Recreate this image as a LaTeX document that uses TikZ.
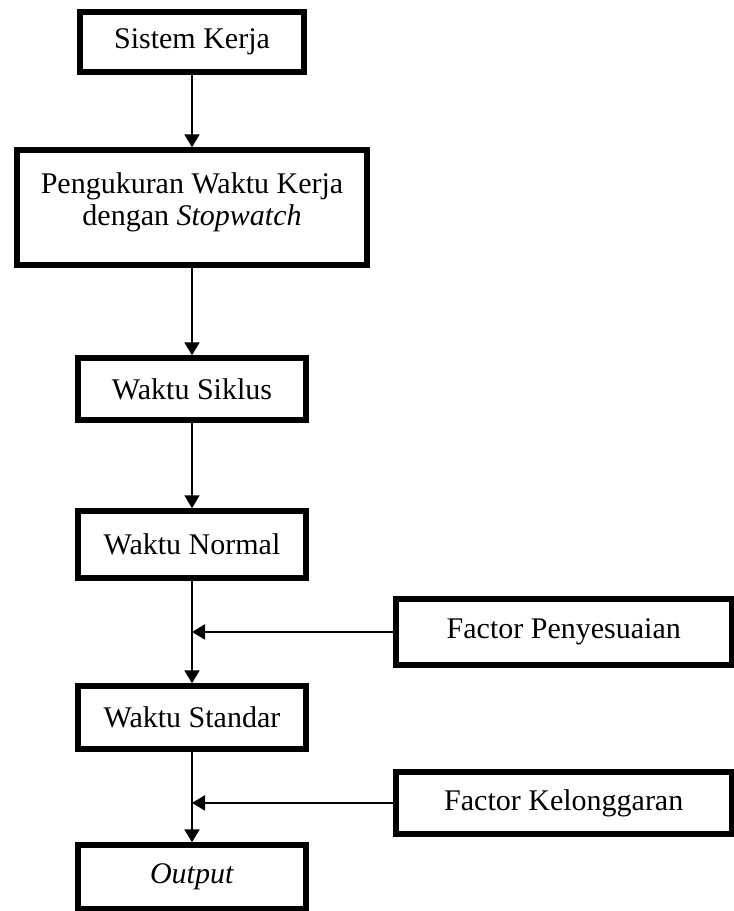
\documentclass[tikz,border=0pt]{standalone}
\usepackage{fontspec}
\setmainfont{Liberation Serif}
\usetikzlibrary{positioning}
\usetikzlibrary{calc}
\usetikzlibrary{arrows.meta}

\begin{document}
\begin{tikzpicture}[>={Triangle[length=6.5pt,width=7.5pt]}, line width=1pt,
	kotak/.style={draw, line width=2.75pt, inner sep=0pt, align=center,
		font=\fontsize{15}{17.5}\selectfont, minimum width=114pt, minimum height=31.5pt}]
		\useasboundingbox (0,0) rectangle (367pt,-455.5pt);
		\node[kotak, minimum width=112pt, minimum height=30pt] (Sk) at (96pt,-21pt) {Sistem Kerja};
		\node[kotak, below = 36.25pt of Sk, minimum width=175pt, minimum height=57.5pt,
			font=\fontsize{15}{16}\selectfont] (Pwk) {Pengukuran Waktu Kerja\\dengan \textit{Stopwatch}\\[-8pt]};
		\node[kotak, below = 43.75pt of Pwk, minimum height=31pt] (Ws) {Waktu Siklus};
		\node[kotak, below = 42.75pt of Ws, minimum height=33.5pt] (Wn) {Waktu Normal};
		\node[kotak, below = 51.25pt of Wn] (Wst) {Waktu Standar};
		\node[kotak, below = 45.25pt of Wst, minimum height=32pt] (Out) {\textit{Output}};
		\coordinate[below = 25.6pt of Wn] (J1);
		\coordinate[below = 25.6pt of Wst] (J2);
		\node[kotak, right = 100.5pt of J1, minimum width=168pt, minimum height=33pt] (Fp) {Factor Penyesuaian};
		\node[kotak, right = 100.5pt of J2, minimum width=168pt, minimum height=31pt] (Fk) {Factor Kelonggaran};
		\draw[->] (Sk) -- (Pwk);
		\draw[->] (Pwk) -- (Ws);
		\draw[->] (Ws) -- (Wn);
		\draw[->] (Wn) -- (Wst);
		\draw[->] (Wst) -- (Out);
		\draw[->] (Fp) -- (J1);
		\draw[->] (Fk) -- (J2);
\end{tikzpicture}
\end{document}
